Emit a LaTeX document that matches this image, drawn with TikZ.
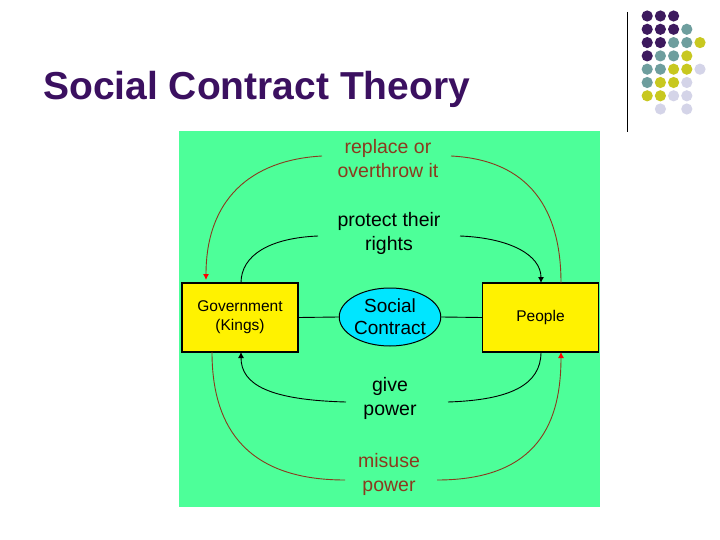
\documentclass[tikz,border=0pt]{standalone}
\usepackage{fontspec}
\setmainfont{Liberation Sans}
\usetikzlibrary{shapes.geometric,arrows.meta}
\begin{document}
\begin{tikzpicture}[x=1pt,y=-1pt,
  lab/.style={font=\fontsize{19.5}{24}\selectfont,align=center,inner sep=0},
  box/.style={draw=black,line width=1.2pt,fill=yellow,minimum width=116pt,minimum height=69pt,font=\fontsize{15.5}{19}\selectfont,align=center},
  blkc/.style={draw=black,line width=0.9pt},
]
\useasboundingbox (0,0) rectangle (720,540);
\fill[white] (0,0) rectangle (720,540);
\definecolor{tc}{HTML}{3B1060}
\node[anchor=base west,inner sep=0,text=tc,font=\fontsize{39}{42}\selectfont\bfseries] (title) at (43,100) {Social Contract Theory};
\draw[black,line width=1pt] (627,12) -- (627,132);
\definecolor{dP}{HTML}{3D1A5E}\definecolor{dT}{HTML}{6E9E9E}\definecolor{dY}{HTML}{C8C820}\definecolor{dL}{HTML}{D4D4E8}
\foreach \row [count=\r] in {{P,P,P},{P,P,P,T},{P,P,T,T,Y},{P,T,T,Y},{T,T,Y,Y,L},{T,Y,Y,L},{Y,Y,L,L}}{
  \foreach \c [count=\i] in \row {\fill[d\c] ({634+13.2*\i},{16+13.3*(\r-1)}) circle (5.6);}}
\fill[dL] (660.4,109) circle (5.6); \fill[dL] (686.8,109) circle (5.6);
\fill[fill={rgb,255:red,77;green,255;blue,153}] (179,131) rectangle (600,507);
\node[box] (gov) at (240,317.5) {Government\\(Kings)};
\node[box] (peo) at (540.5,317.5) {People};
\node[ellipse,draw=black,line width=1pt,fill={rgb,255:red,0;green,230;blue,255},minimum width=100pt,minimum height=58pt,inner sep=0,font=\fontsize{19}{22}\selectfont,align=center] (sc) at (390,317) {Social\\Contract};
\draw[blkc] (gov.east) -- (sc.west);
\draw[blkc] (sc.east) -- (peo.west);
\definecolor{rc}{HTML}{8B3A1E}
\node[lab,text=rc] (rep) at (388,159) {replace or\\overthrow it};
\node[lab] (pro) at (389,233) {protect their\\rights};
\node[lab] (giv) at (390,398) {give\\power};
\node[lab,text=rc] (mis) at (389,474) {misuse\\power};
\coordinate (a1) at (322,156); \coordinate (a2) at (451,156);
\coordinate (b1) at (318,236); \coordinate (b2) at (460,236);
\coordinate (c1) at (346,402); \coordinate (c2) at (448,402);
\coordinate (d1) at (345,480); \coordinate (d2) at (437,480);
\draw[draw=rc,line width=0.9pt,-{Latex[length=6pt,width=6pt,color=red]}] (a1) .. controls (250,160) and (206,200) .. (206,280);
\draw[draw=rc,line width=0.9pt] (a2) .. controls (530,160) and (561,210) .. (561,283);
\draw[blkc] (b1) .. controls (270,238) and (241,255) .. (241,283);
\draw[blkc,-{Latex[length=6pt,width=6pt]}] (b2) .. controls (510,238) and (541,255) .. (541,283);
\draw[blkc,-{Latex[length=6pt,width=6pt]}] (c1) .. controls (270,400) and (241,385) .. (241,352);
\draw[blkc] (c2) .. controls (510,400) and (541,385) .. (541,352);
\draw[draw=rc,line width=0.9pt] (d1) .. controls (240,480) and (212,420) .. (212,352);
\draw[draw=rc,line width=0.9pt,-{Latex[length=6pt,width=6pt,color=red]}] (d2) .. controls (540,480) and (561,420) .. (561,352);
\end{tikzpicture}
\end{document}
